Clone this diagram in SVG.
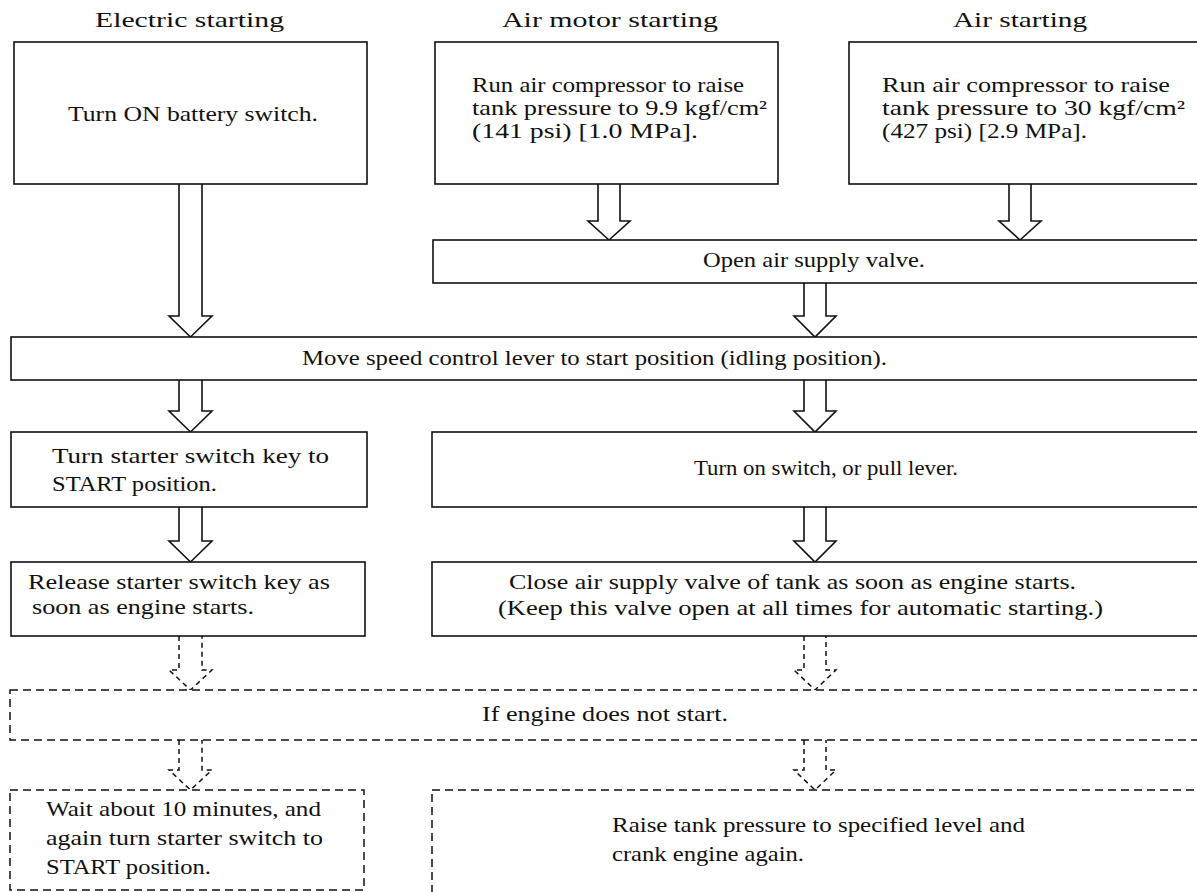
<svg xmlns="http://www.w3.org/2000/svg" width="1197" height="892" viewBox="0 0 1197 892">
<style>
.bg{fill:#ffffff}
.box{fill:#ffffff;stroke:#111;stroke-width:1.6}
.dbox{fill:#ffffff;stroke:#111;stroke-width:1.5;stroke-dasharray:8 5}
.arr{fill:#ffffff;stroke:#111;stroke-width:1.6;stroke-linejoin:miter}
.darr{fill:#ffffff;stroke:#111;stroke-width:1.5;stroke-dasharray:5 4}
text{font-family:"Liberation Serif","Times New Roman",serif;font-size:21px;fill:#111}
</style>
<rect class="bg" x="0" y="0" width="1197" height="892"/>
<g id="headers">
<text x="95" y="27" textLength="189" lengthAdjust="spacingAndGlyphs">Electric starting</text>
<text x="502" y="27" textLength="216" lengthAdjust="spacingAndGlyphs">Air motor starting</text>
<text x="953" y="27" textLength="134" lengthAdjust="spacingAndGlyphs">Air starting</text>
</g>
<g id="connectors">
<path class="arr" d="M179,184 V316 H169 L190.5,337 L212,316 H202 V184"/>
<path class="arr" d="M598,184 V221 H588 L609,240 L630,221 H620 V184"/>
<path class="arr" d="M1009,184 V221 H999 L1020,240 L1041,221 H1031 V184"/>
<path class="arr" d="M804,283 V316 H794 L815,337 L836,316 H826 V283"/>
<path class="arr" d="M179,380 V411 H169 L190.5,432 L212,411 H202 V380"/>
<path class="arr" d="M804,380 V411 H794 L815,432 L836,411 H826 V380"/>
<path class="arr" d="M179,507 V541 H169 L190.5,562 L212,541 H202 V507"/>
<path class="arr" d="M804,507 V541 H794 L815,562 L836,541 H826 V507"/>
<path class="darr" d="M179,636 V670 H169 L190.5,690 L212,670 H202 V636"/>
<path class="darr" d="M804,636 V670 H794 L815,690 L836,670 H826 V636"/>
<path class="darr" d="M179,740 V770 H169 L190.5,790 L212,770 H202 V740"/>
<path class="darr" d="M804,740 V770 H794 L815,790 L836,770 H826 V740"/>
</g>
<g id="n-battery">
<rect class="box" x="14" y="42" width="353" height="142"/>
<text x="68" y="121" textLength="250" lengthAdjust="spacingAndGlyphs">Turn ON battery switch.</text>
</g>
<g id="n-airmotor">
<rect class="box" x="435" y="42" width="343" height="142"/>
<text x="472" y="92" textLength="272" lengthAdjust="spacingAndGlyphs">Run air compressor to raise</text>
<text x="472" y="115" textLength="295" lengthAdjust="spacingAndGlyphs">tank pressure to 9.9 kgf/cm²</text>
<text x="472" y="138" textLength="226" lengthAdjust="spacingAndGlyphs">(141 psi) [1.0 MPa].</text>
</g>
<g id="n-air">
<rect class="box" x="849" y="42" width="360" height="142"/>
<text x="882" y="92" textLength="288" lengthAdjust="spacingAndGlyphs">Run air compressor to raise</text>
<text x="882" y="115" textLength="303" lengthAdjust="spacingAndGlyphs">tank pressure to 30 kgf/cm²</text>
<text x="882" y="138" textLength="205" lengthAdjust="spacingAndGlyphs">(427 psi) [2.9 MPa].</text>
</g>
<g id="n-openvalve">
<rect class="box" x="433" y="240" width="780" height="43"/>
<text x="703" y="267" textLength="222" lengthAdjust="spacingAndGlyphs">Open air supply valve.</text>
</g>
<g id="n-speedlever">
<rect class="box" x="11" y="337" width="1200" height="43"/>
<text x="302" y="365" textLength="585" lengthAdjust="spacingAndGlyphs">Move speed control lever to start position (idling position).</text>
</g>
<g id="n-starterkey">
<rect class="box" x="11" y="432" width="356" height="75"/>
<text x="52" y="463" textLength="277" lengthAdjust="spacingAndGlyphs">Turn starter switch key to</text>
<text x="52" y="491" textLength="165" lengthAdjust="spacingAndGlyphs">START position.</text>
</g>
<g id="n-switchlever">
<rect class="box" x="432" y="432" width="780" height="75"/>
<text x="694" y="475" textLength="264" lengthAdjust="spacingAndGlyphs">Turn on switch, or pull lever.</text>
</g>
<g id="n-release">
<rect class="box" x="11" y="562" width="354" height="74"/>
<text x="28" y="589" textLength="302" lengthAdjust="spacingAndGlyphs">Release starter switch key as</text>
<text x="32" y="614" textLength="222" lengthAdjust="spacingAndGlyphs">soon as engine starts.</text>
</g>
<g id="n-closevalve">
<rect class="box" x="432" y="562" width="780" height="74"/>
<text x="509" y="589" textLength="567" lengthAdjust="spacingAndGlyphs">Close air supply valve of tank as soon as engine starts.</text>
<text x="498" y="615" textLength="605" lengthAdjust="spacingAndGlyphs">(Keep this valve open at all times for automatic starting.)</text>
</g>
<g id="n-notstart">
<rect class="dbox" x="10" y="690" width="1200" height="50"/>
<text x="482" y="721" textLength="246" lengthAdjust="spacingAndGlyphs">If engine does not start.</text>
</g>
<g id="n-wait">
<rect class="dbox" x="10" y="790" width="354" height="100"/>
<text x="46" y="816" textLength="275" lengthAdjust="spacingAndGlyphs">Wait about 10 minutes, and</text>
<text x="46" y="845" textLength="277" lengthAdjust="spacingAndGlyphs">again turn starter switch to</text>
<text x="46" y="874" textLength="165" lengthAdjust="spacingAndGlyphs">START position.</text>
</g>
<g id="n-raise">
<rect class="dbox" x="432" y="790" width="780" height="110"/>
<text x="612" y="832" textLength="413" lengthAdjust="spacingAndGlyphs">Raise tank pressure to specified level and</text>
<text x="612" y="861" textLength="192" lengthAdjust="spacingAndGlyphs">crank engine again.</text>
</g>
</svg>
